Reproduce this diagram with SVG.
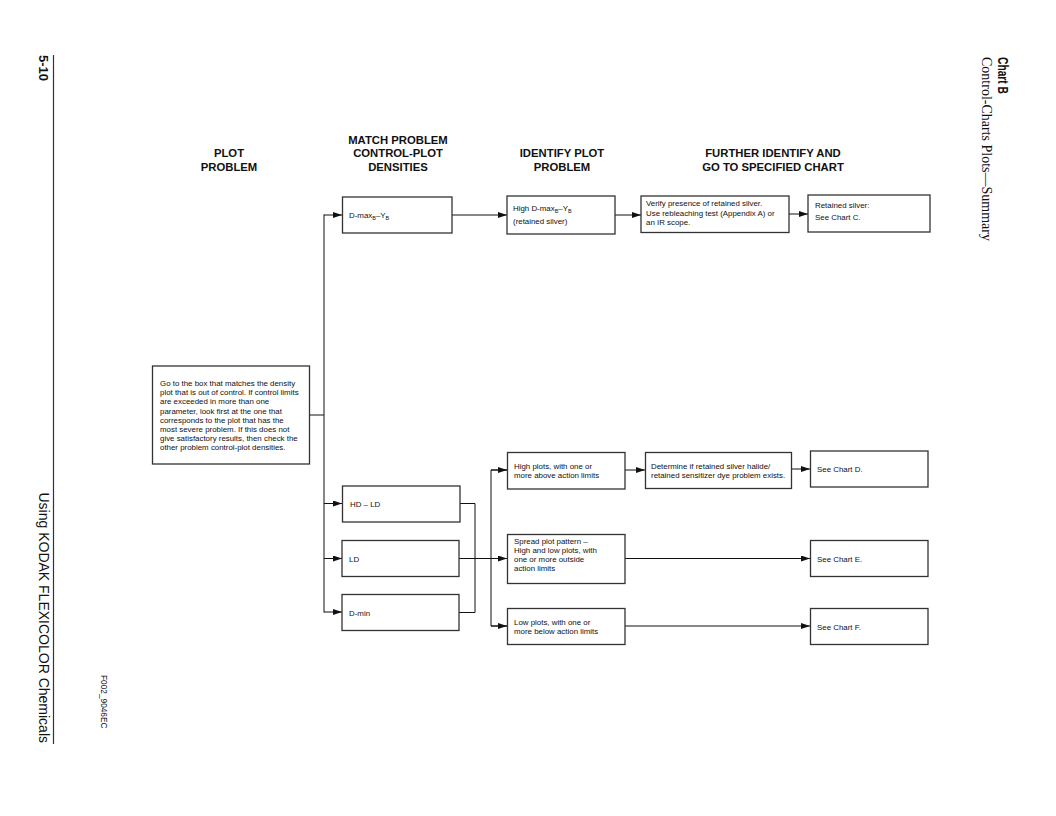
<svg xmlns="http://www.w3.org/2000/svg" width="1056" height="816" viewBox="0 0 1056 816">
<style>
.box{fill:#fff;stroke:#333;stroke-width:1.3}
.t{font-family:"Liberation Sans",Arial,sans-serif;font-size:7.9px;fill:#111}
.sub{font-size:5.5px}
.h{font-family:"Liberation Sans",Arial,sans-serif;font-size:11.3px;font-weight:bold;fill:#111;text-anchor:middle}
.ln{fill:none;stroke:#111;stroke-width:1}
.m{font-family:"Liberation Sans",Arial,sans-serif;fill:#111}
</style>
<defs>
<marker id="ah" markerUnits="userSpaceOnUse" markerWidth="10" markerHeight="6" refX="9" refY="3" orient="auto">
<path d="M0,0 L9,3 L0,6 z" fill="#111"/>
</marker>
</defs>
<rect width="1056" height="816" fill="#fff"/>

<g id="margin">
<line x1="53.5" y1="55" x2="53.5" y2="744" stroke="#333" stroke-width="1.2"/>
<text class="m" font-size="13" font-weight="bold" transform="translate(39,55) rotate(90)">5-10</text>
<text class="m" font-size="14" text-anchor="end" transform="translate(39,743) rotate(90)">Using KODAK FLEXICOLOR Chemicals</text>
<text class="m" font-size="8.3" transform="translate(100.5,675) rotate(90)">F002_9046EC</text>
<text class="m" font-size="14" font-weight="bold" textLength="37" lengthAdjust="spacingAndGlyphs" transform="translate(997.5,57) rotate(90)">Chart B</text>
<text font-family="'Liberation Serif','Times New Roman',serif" font-size="14" fill="#111" transform="translate(982,57) rotate(90)">Control-Charts Plots—Summary</text>
</g>

<g id="headers">
<text class="h" x="229" y="157">PLOT</text>
<text class="h" x="229" y="170.5">PROBLEM</text>
<text class="h" x="398" y="143.5">MATCH PROBLEM</text>
<text class="h" x="398" y="157">CONTROL-PLOT</text>
<text class="h" x="398" y="170.5">DENSITIES</text>
<text class="h" x="562" y="157">IDENTIFY PLOT</text>
<text class="h" x="562" y="170.5">PROBLEM</text>
<text class="h" x="773" y="157">FURTHER IDENTIFY AND</text>
<text class="h" x="773" y="170.5">GO TO SPECIFIED CHART</text>
</g>

<g id="connectors">
<polyline class="ln" points="309,415 324,415"/>
<line class="ln" x1="324" y1="214.5" x2="324" y2="612.5"/>
<line class="ln" x1="324" y1="215" x2="342" y2="215" marker-end="url(#ah)"/>
<line class="ln" x1="324" y1="503.5" x2="342" y2="503.5" marker-end="url(#ah)"/>
<line class="ln" x1="324" y1="558.5" x2="342" y2="558.5" marker-end="url(#ah)"/>
<line class="ln" x1="324" y1="612" x2="342" y2="612" marker-end="url(#ah)"/>
<line class="ln" x1="452" y1="215" x2="507" y2="215" marker-end="url(#ah)"/>
<line class="ln" x1="615" y1="215" x2="641" y2="215" marker-end="url(#ah)"/>
<line class="ln" x1="789" y1="214" x2="808" y2="214" marker-end="url(#ah)"/>
<polyline class="ln" points="460,503.5 475,503.5 475,612.5 459,612.5"/>
<line class="ln" x1="459" y1="558.5" x2="507" y2="558.5" marker-end="url(#ah)"/>
<polyline class="ln" points="507,470 491,470 491,626 507,626"/>
<line class="ln" x1="491" y1="470" x2="507" y2="470" marker-end="url(#ah)"/>
<line class="ln" x1="491" y1="626" x2="507" y2="626" marker-end="url(#ah)"/>
<line class="ln" x1="625" y1="470" x2="645" y2="470" marker-end="url(#ah)"/>
<line class="ln" x1="792" y1="469" x2="810" y2="469" marker-end="url(#ah)"/>
<line class="ln" x1="625" y1="558.5" x2="810" y2="558.5" marker-end="url(#ah)"/>
<line class="ln" x1="625" y1="626" x2="810" y2="626" marker-end="url(#ah)"/>
</g>

<g id="n-main">
<rect class="box" x="152.5" y="366" width="157" height="98"/>
<text class="t" x="160" y="386">Go to the box that matches the density</text>
<text class="t" x="160" y="395.2">plot that is out of control. If control limits</text>
<text class="t" x="160" y="404.4">are exceeded in more than one</text>
<text class="t" x="160" y="413.6">parameter, look first at the one that</text>
<text class="t" x="160" y="422.8">corresponds to the plot that has the</text>
<text class="t" x="160" y="432">most severe problem. If this does not</text>
<text class="t" x="160" y="441.2">give satisfactory results, then check the</text>
<text class="t" x="160" y="450.4">other problem control-plot densities.</text>
</g>

<g id="n-dmax">
<rect class="box" x="342.5" y="197" width="109.5" height="36"/>
<text class="t" x="349" y="218">D-max<tspan class="sub" dy="2">B</tspan><tspan dy="-2">–Y</tspan><tspan class="sub" dy="2">B</tspan></text>
</g>

<g id="n-hdld">
<rect class="box" x="342.5" y="486" width="117.5" height="36"/>
<text class="t" x="350" y="506.5">HD – LD</text>
</g>

<g id="n-ld">
<rect class="box" x="342" y="540.5" width="117" height="36"/>
<text class="t" x="349" y="561.5">LD</text>
</g>

<g id="n-dmin">
<rect class="box" x="342" y="594.5" width="117" height="36"/>
<text class="t" x="349" y="615.5">D-min</text>
</g>

<g id="n-high-dmax">
<rect class="box" x="507" y="196" width="108" height="38"/>
<text class="t" x="513" y="211">High D-max<tspan class="sub" dy="2">B</tspan><tspan dy="-2">–Y</tspan><tspan class="sub" dy="2">B</tspan></text>
<text class="t" x="513" y="224">(retained silver)</text>
</g>

<g id="n-verify">
<rect class="box" x="641" y="196" width="148" height="36.5"/>
<text class="t" x="646" y="206">Verify presence of retained silver.</text>
<text class="t" x="646" y="215.5">Use rebleaching test (Appendix A) or</text>
<text class="t" x="646" y="225">an IR scope.</text>
</g>

<g id="n-chartc">
<rect class="box" x="808" y="195" width="122" height="37"/>
<text class="t" x="815" y="207.5">Retained silver:</text>
<text class="t" x="815" y="219.5">See Chart C.</text>
</g>

<g id="n-highplots">
<rect class="box" x="507.5" y="452.5" width="117.5" height="36.5"/>
<text class="t" x="514" y="469">High plots, with one or</text>
<text class="t" x="514" y="478">more above action limits</text>
</g>

<g id="n-spread">
<rect class="box" x="507.5" y="534.5" width="117.5" height="49"/>
<text class="t" x="514" y="544">Spread plot pattern –</text>
<text class="t" x="514" y="553">High and low plots, with</text>
<text class="t" x="514" y="562">one or more outside</text>
<text class="t" x="514" y="571">action limits</text>
</g>

<g id="n-low">
<rect class="box" x="507.5" y="608.5" width="117.5" height="36"/>
<text class="t" x="514" y="624.5">Low plots, with one or</text>
<text class="t" x="514" y="633.5">more below action limits</text>
</g>

<g id="n-determine">
<rect class="box" x="645.5" y="452.5" width="146" height="36"/>
<text class="t" x="651" y="468.5">Determine if retained silver halide/</text>
<text class="t" x="651" y="478">retained sensitizer dye problem exists.</text>
</g>

<g id="n-chartd">
<rect class="box" x="810.5" y="451" width="117.5" height="36"/>
<text class="t" x="817" y="472">See Chart D.</text>
</g>

<g id="n-charte">
<rect class="box" x="810.5" y="540.5" width="117.5" height="36"/>
<text class="t" x="817" y="561.5">See Chart E.</text>
</g>

<g id="n-chartf">
<rect class="box" x="810.5" y="608.5" width="117.5" height="36"/>
<text class="t" x="817" y="629.5">See Chart F.</text>
</g>
</svg>
